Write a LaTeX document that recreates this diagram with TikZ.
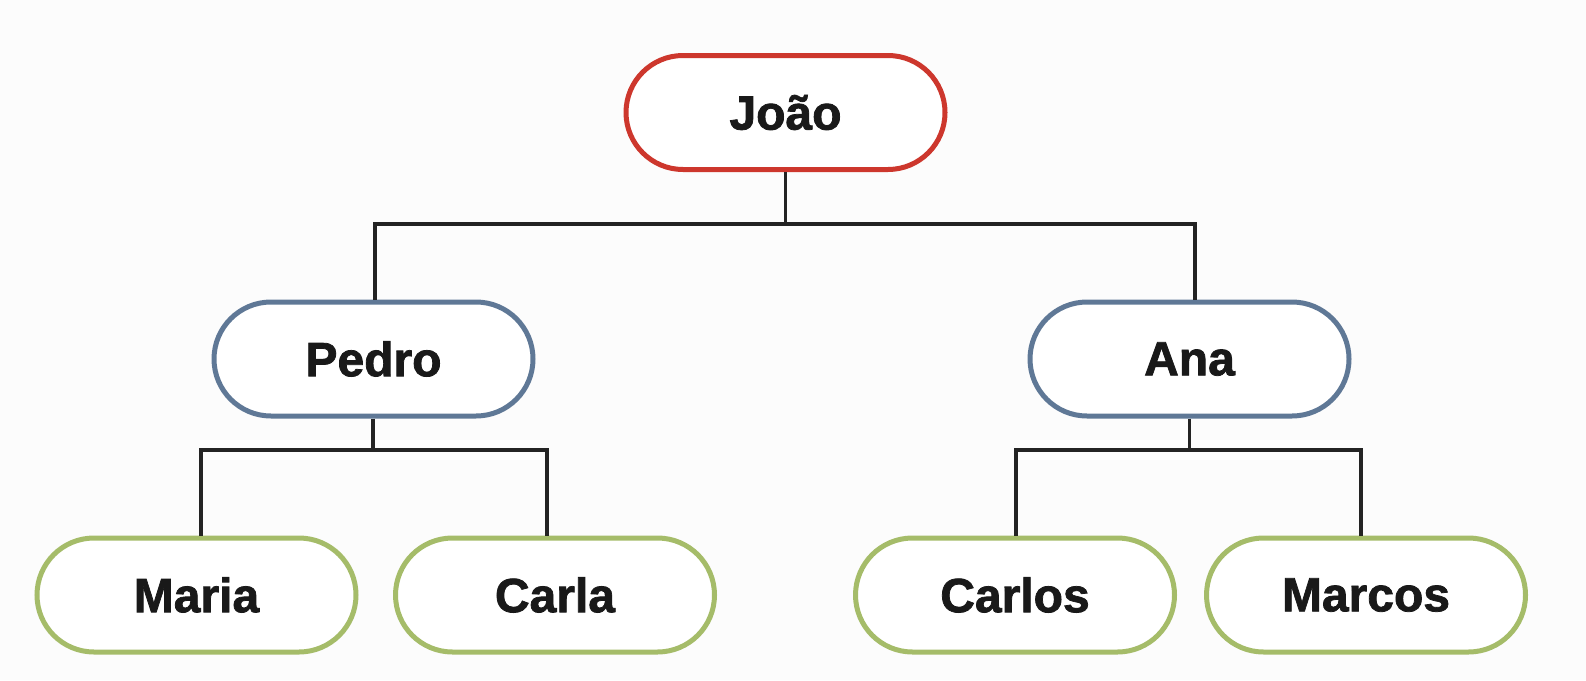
\documentclass[tikz,border=0pt]{standalone}
\usepackage{fontspec}
\setmainfont{Liberation Sans}
\newfontfamily\pillfont[FakeBold=1.6]{Liberation Sans}
\usetikzlibrary{calc}
\definecolor{cred}{RGB}{205,55,45}
\definecolor{cblue}{RGB}{95,120,150}
\definecolor{cgreen}{RGB}{165,188,105}
\definecolor{cline}{RGB}{35,35,35}
\begin{document}
\begin{tikzpicture}[x=1pt,y=-1pt,
  pill/.style={draw, line width=5pt, fill=white, rounded corners=57pt,
    minimum width=319pt, minimum height=114pt, inner sep=0pt,
    font=\pillfont\fontsize{48}{56}\selectfont\bfseries, text=black!90},
  conn/.style={draw=cline, line width=3.5pt}]
\fill[white!99!black] (0,0) rectangle (1586,680);
\useasboundingbox (0,0) rectangle (1586,680);
\node[pill, draw=cred] (joao) at (785.5,112.5) {João};
\node[pill, draw=cblue] (pedro) at (373.5,359) {Pedro};
\node[pill, draw=cblue] (ana) at (1189.5,359) {Ana};
\node[pill, draw=cgreen] (maria) at (196.5,595) {Maria};
\node[pill, draw=cgreen] (carla) at (555,595) {Carla};
\node[pill, draw=cgreen] (carlos) at (1015,595) {Carlos};
\node[pill, draw=cgreen] (marcos) at (1366,595) {Marcos};
\coordinate (l1) at (0,224);
\coordinate (l2) at (0,450);
\draw[conn] ($(pedro.north)+(1.5,0)$) |- (joao.south |- l1) -| ($(ana.north)+(5.5,0)$);
\draw[conn] (joao.south) -- (joao.south |- l1);
\draw[conn] ($(maria.north)+(4.5,0)$) |- ($(pedro.south |- l2)+(-0.5,0)$) -| ($(carla.north)+(-8,0)$);
\draw[conn] ($(pedro.south)+(-0.5,0)$) -- ($(pedro.south |- l2)+(-0.5,0)$);
\draw[conn] ($(carlos.north)+(1,0)$) |- (ana.south |- l2) -| ($(marcos.north)+(-5,0)$);
\draw[conn] (ana.south) -- (ana.south |- l2);
\end{tikzpicture}
\end{document}
